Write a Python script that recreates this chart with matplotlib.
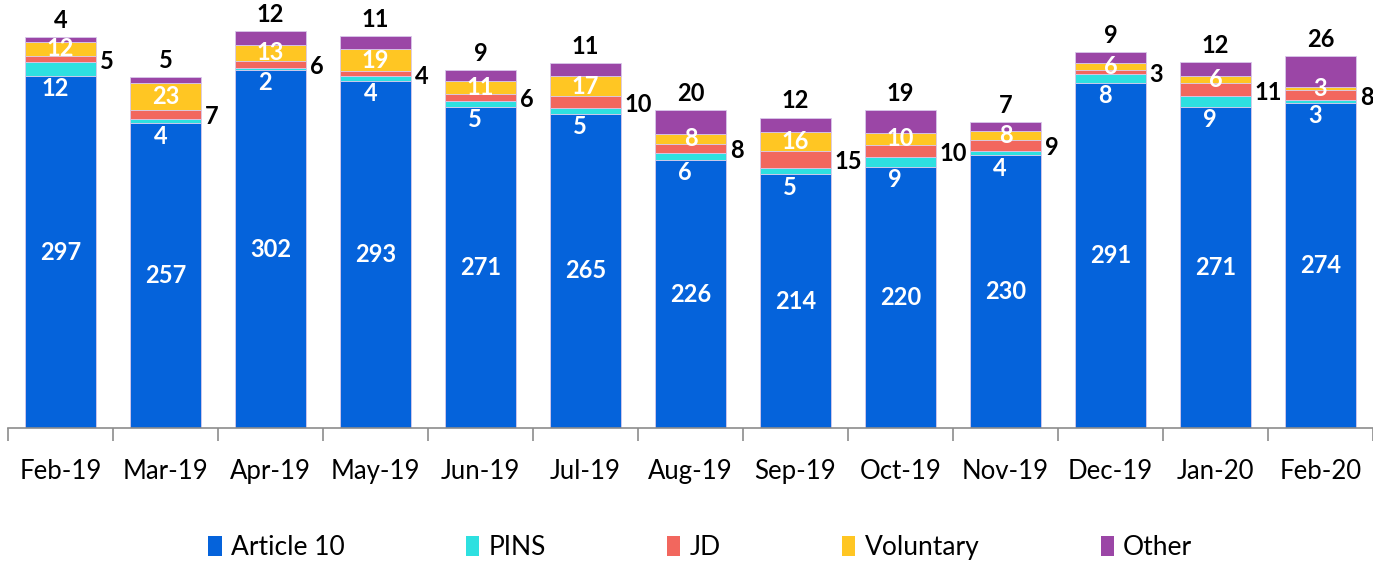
import matplotlib
matplotlib.use('Agg')
import matplotlib.pyplot as plt
from matplotlib.patches import Patch
import numpy as np

months = ['Feb-19', 'Mar-19', 'Apr-19', 'May-19', 'Jun-19', 'Jul-19', 'Aug-19',
          'Sep-19', 'Oct-19', 'Nov-19', 'Dec-19', 'Jan-20', 'Feb-20']
article10 = [297, 257, 302, 293, 271, 265, 226, 214, 220, 230, 291, 271, 274]
pins = [12, 4, 2, 4, 5, 5, 6, 5, 9, 4, 8, 9, 3]
jd = [5, 7, 6, 4, 6, 10, 8, 15, 10, 9, 3, 11, 8]
voluntary = [12, 23, 13, 19, 11, 17, 8, 16, 10, 8, 6, 6, 3]
other = [4, 5, 12, 11, 9, 11, 20, 12, 19, 7, 9, 12, 26]

names = ['Article 10', 'PINS', 'JD', 'Voluntary', 'Other']
colors = ['#0563DB', '#2EE0E0', '#F2675E', '#FFC623', '#9B46A6']

plt.rcParams['font.family'] = ['Lato', 'DejaVu Sans']

fig = plt.figure(figsize=(13.73, 5.63), dpi=100)
ax = fig.add_axes([8 / 1373, 135 / 563, 1 - 8 / 1373, 426.6 / 563])

x = np.arange(len(months))
w = 0.667
series = [article10, pins, jd, voluntary, other]
bottom = np.zeros(len(months))
bottoms = []
for vals, c in zip(series, colors):
    bottoms.append(bottom.copy())
    ax.bar(x, vals, w, bottom=bottom, color=c, edgecolor='#d8c8ea', linewidth=0.6)
    bottom += np.array(vals)
total = bottom

fs = 17
for i in range(len(months)):
    # Article 10: centre of bar
    ax.text(x[i], article10[i] / 2, str(article10[i]), ha='center', va='center',
            color='white', fontsize=fs, fontweight='bold')
    # PINS: just under the top of the blue bar
    ax.text(x[i] - 0.05, article10[i] - 1, str(pins[i]), ha='center', va='top',
            color='white', fontsize=fs, fontweight='bold')
    # JD: right of bar
    ax.text(x[i] + w / 2 + 0.04, bottoms[2][i] + jd[i] / 2 - 2, str(jd[i]), ha='left',
            va='center', color='black', fontsize=fs, fontweight='bold', clip_on=False)
    # Voluntary: centre of segment
    ax.text(x[i], bottoms[3][i] + voluntary[i] / 2, str(voluntary[i]), ha='center',
            va='center', color='white', fontsize=fs, fontweight='bold')
    # Other: above bar
    ax.text(x[i], total[i] + 14, str(other[i]), ha='center', va='center',
            color='black', fontsize=fs, fontweight='bold', clip_on=False)

ax.set_xlim(-0.5, len(months) - 0.5)
ax.set_ylim(0, 360)
for s in ['top', 'right', 'left']:
    ax.spines[s].set_visible(False)
ax.spines['bottom'].set_color('#8c8c8c')
ax.spines['bottom'].set_linewidth(1.2)
ax.set_yticks([])
ax.set_xticks(x)
ax.set_xticklabels(months, fontsize=18.5)
ax.tick_params(axis='x', which='major', length=0, pad=22)
ax.set_xticks(np.arange(-0.5, len(months), 1), minor=True)
ax.tick_params(axis='x', which='minor', length=9, width=1.2, color='#8c8c8c')

handles = [Patch(facecolor=c, edgecolor='none') for c in colors]
fig.legend(handles, names, loc='center', bbox_to_anchor=(0.51, 0.027), ncol=5,
           frameon=False, fontsize=19, handlelength=0.5, handleheight=0.75,
           handletextpad=0.35, columnspacing=4.6)

fig.savefig('out.png', dpi=100)
